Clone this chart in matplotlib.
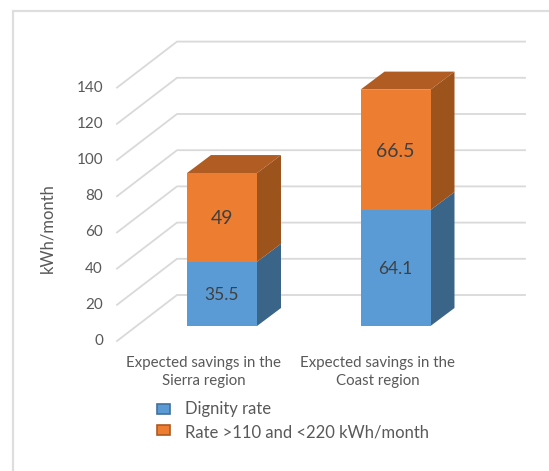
import matplotlib
matplotlib.use("Agg")
import matplotlib.pyplot as plt
from matplotlib.patches import Polygon

categories = ["Expected savings in the\nSierra region", "Expected savings in the\nCoast region"]
dignity = [35.5, 64.1]
rate = [49, 66.5]
labels_dignity = ["35.5", "64.1"]
labels_rate = ["49", "66.5"]
ticks = [0, 20, 40, 60, 80, 100, 120, 140]
legend_names = ["Dignity rate", "Rate >110 and <220 kWh/month"]

W, H = 549, 471
PX_X = 173.5   # pixels per category
PX_Y = 1.81    # pixels per kWh
X0 = 222       # pixel of first bar centre
Y0 = 326       # pixel of value 0 on the bar plane

BLUE, BLUE_SIDE = "#5B9BD5", "#3A6488"
ORANGE, ORANGE_SIDE, ORANGE_TOP = "#ED7D31", "#9C531C", "#B05C22"
GRID = "#D9D9D9"
TEXT = "#595959"

plt.rcParams["font.family"] = ["Lato", "DejaVu Sans"]

bar_w = 70 / PX_X
dx = 24 / PX_X
dy = 18 / PX_Y
label_drop = 1.5 / PX_Y
cat_shift = 18 / PX_X


def px_x(p):
    return (p - X0) / PX_X


def px_y(p):
    return (Y0 - p) / PX_Y


def box(ax, x, bottom, height, front, side, top=None):
    right = x + bar_w / 2
    left = x - bar_w / 2
    ax.add_patch(Polygon([(right, bottom), (right + dx, bottom + dy),
                          (right + dx, bottom + height + dy), (right, bottom + height)],
                         color=side, lw=0, zorder=3))
    if top:
        ax.add_patch(Polygon([(left, bottom + height), (left + dx, bottom + height + dy),
                              (right + dx, bottom + height + dy), (right, bottom + height)],
                             color=top, lw=0, zorder=3))
    ax.bar(x, height, bar_w, bottom=bottom, color=front, lw=0, zorder=4)


fig = plt.figure(figsize=(W / 100, H / 100), dpi=100)
ax = fig.add_axes([0, 0, 1, 1])
ax.set_xlim(px_x(0), px_x(W))
ax.set_ylim(px_y(H), px_y(0))
ax.axis("off")

# chart border, only left and top show in the crop
ax.plot([px_x(13), px_x(13), px_x(W)], [px_y(H), px_y(10.5), px_y(10.5)],
        color="#DEDEDE", lw=1.6, zorder=1, solid_joinstyle="miter")

# 3d grid, front plane sits below the bars, back plane behind them
front_off = px_y(341)
back_off = px_y(295)
for t in ticks:
    ax.plot([px_x(117), px_x(177), px_x(525)],
            [t + front_off, t + back_off, t + back_off],
            color=GRID, lw=1.3, zorder=2, solid_joinstyle="miter")
    ax.text(px_x(103), t + front_off, str(t), ha="right", va="center",
            fontsize=11, color=TEXT)

for i, c in enumerate(categories):
    box(ax, i, 0, dignity[i], BLUE, BLUE_SIDE)
    box(ax, i, dignity[i], rate[i], ORANGE, ORANGE_SIDE, ORANGE_TOP)
    ax.text(i, dignity[i] / 2 - label_drop, labels_dignity[i], ha="center", va="center",
            fontsize=12.5, color="#404040", zorder=5)
    ax.text(i, dignity[i] + rate[i] / 2 - label_drop, labels_rate[i], ha="center", va="center",
            fontsize=14, color="#404040", zorder=5)
    ax.text(i - cat_shift, px_y(372), c, ha="center", va="center", fontsize=10.8,
            color=TEXT, linespacing=1.45)

ax.text(px_x(47), px_y(228), "kWh/month", rotation=90, ha="center", va="center",
        fontsize=12, color=TEXT)

# legend drawn by hand to match the tight Excel layout
patch_y = [409, 430]
text_y = [409, 433]
for name, col, edge, py, ty in zip(legend_names, [BLUE, ORANGE], ["#41719C", "#AE5A21"], patch_y, text_y):
    ax.add_patch(plt.Rectangle((px_x(157), px_y(py + 5)), 13 / PX_X, 10 / PX_Y,
                               fc=col, ec=edge, lw=1.2, zorder=3))
    ax.text(px_x(185), px_y(ty), name, ha="left", va="center", fontsize=12, color=TEXT)

fig.savefig("out.png", dpi=100)
